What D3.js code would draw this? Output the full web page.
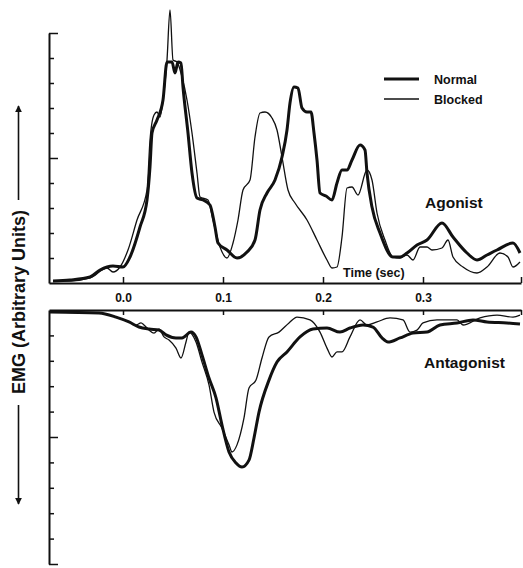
<!DOCTYPE html>
<html>
<head>
<meta charset="utf-8">
<script src="https://cdn.jsdelivr.net/npm/d3@7"></script>
<style>
  body { margin: 0; background: #fff; }
  text { font-family: "Liberation Sans", Arial, sans-serif; fill: #111; }
</style>
</head>
<body>
<div id="container"></div>
<script>
"use strict";

const width = 523;
const height = 568;

// time (sec), EMG (arbitrary units)
const agonistNormal = [
  [-0.070, 0.08], [-0.053, 0.12], [-0.033, 0.24], [-0.023, 0.52], [-0.010, 0.68],
  [0.000, 0.64], [0.007, 1.04], [0.017, 2.24], [0.024, 3.32], [0.027, 4.64],
  [0.029, 6.00], [0.034, 6.52], [0.040, 7.32], [0.044, 8.84], [0.049, 8.84],
  [0.052, 8.40], [0.055, 8.84], [0.058, 8.80], [0.060, 7.84], [0.065, 6.00],
  [0.069, 4.40], [0.074, 3.40], [0.080, 3.32], [0.087, 3.12], [0.092, 2.24],
  [0.095, 1.60], [0.104, 1.32], [0.114, 1.00], [0.124, 1.24], [0.132, 1.72],
  [0.137, 2.92], [0.144, 3.60], [0.152, 4.12], [0.159, 5.04], [0.164, 6.12],
  [0.167, 7.20], [0.171, 7.84], [0.175, 7.80], [0.179, 7.00], [0.184, 6.84],
  [0.188, 6.84], [0.191, 6.00], [0.194, 4.92], [0.197, 3.60], [0.203, 3.48],
  [0.209, 3.32], [0.214, 4.00], [0.219, 4.52], [0.224, 4.52], [0.229, 4.92],
  [0.237, 5.52], [0.242, 5.32], [0.244, 4.40], [0.249, 3.04], [0.257, 2.00],
  [0.270, 1.04], [0.277, 1.04], [0.284, 1.20], [0.294, 1.52], [0.304, 1.72],
  [0.319, 2.40], [0.330, 1.84], [0.344, 1.20], [0.354, 0.92], [0.364, 1.12],
  [0.374, 1.32], [0.390, 1.60], [0.397, 1.20]
];

const agonistBlocked = [
  [-0.070, 0.08], [-0.053, 0.08], [-0.033, 0.20], [-0.016, 0.60], [-0.010, 0.44],
  [-0.003, 0.64], [0.005, 1.32], [0.014, 2.52], [0.024, 3.72], [0.027, 5.72],
  [0.031, 6.72], [0.034, 6.84], [0.037, 6.64], [0.040, 7.32], [0.044, 8.92],
  [0.047, 10.92], [0.050, 8.92], [0.054, 8.84], [0.059, 8.24], [0.064, 7.32],
  [0.069, 6.00], [0.074, 4.40], [0.077, 3.44], [0.085, 3.32], [0.090, 2.52],
  [0.097, 1.44], [0.104, 1.00], [0.110, 1.60], [0.115, 2.52], [0.120, 3.72],
  [0.127, 4.12], [0.132, 5.84], [0.137, 6.80], [0.142, 6.84], [0.149, 6.60],
  [0.154, 6.12], [0.159, 5.04], [0.165, 3.72], [0.172, 3.20], [0.184, 2.52],
  [0.194, 1.72], [0.204, 0.92], [0.209, 0.60], [0.214, 0.64], [0.219, 1.84],
  [0.224, 3.80], [0.229, 3.84], [0.235, 3.52], [0.244, 4.52], [0.249, 4.12],
  [0.254, 2.80], [0.262, 1.72], [0.270, 1.04], [0.277, 1.00], [0.284, 1.12],
  [0.290, 0.92], [0.297, 1.44], [0.304, 1.44], [0.309, 1.32], [0.319, 1.40],
  [0.325, 1.72], [0.330, 1.04], [0.340, 0.64], [0.354, 0.40], [0.364, 0.64],
  [0.377, 1.20], [0.385, 1.04], [0.390, 0.64], [0.397, 0.84]
];

const antagonistNormal = [
  [-0.073, 0.08], [-0.024, 0.12], [-0.007, 0.28], [0.006, 0.47], [0.016, 0.67],
  [0.026, 0.75], [0.036, 0.79], [0.043, 0.98], [0.053, 1.10], [0.059, 1.10],
  [0.068, 0.87], [0.073, 1.06], [0.079, 1.77], [0.086, 2.68], [0.093, 3.46],
  [0.099, 4.53], [0.106, 5.59], [0.113, 6.02], [0.119, 6.18], [0.126, 5.91],
  [0.131, 5.04], [0.136, 4.02], [0.146, 2.76], [0.154, 2.05], [0.164, 1.65],
  [0.177, 1.06], [0.190, 0.75], [0.204, 0.71], [0.217, 0.87], [0.227, 0.71],
  [0.240, 0.59], [0.250, 0.67], [0.259, 1.10], [0.265, 1.26], [0.277, 1.10],
  [0.290, 0.91], [0.304, 0.87], [0.317, 0.59], [0.334, 0.51], [0.350, 0.39],
  [0.364, 0.47], [0.384, 0.51], [0.397, 0.55]
];

const antagonistBlocked = [
  [-0.073, 0.08], [-0.024, 0.12], [-0.007, 0.28], [0.006, 0.47], [0.013, 0.59],
  [0.018, 0.51], [0.021, 0.59], [0.026, 0.79], [0.031, 0.91], [0.036, 0.75],
  [0.041, 1.06], [0.046, 1.18], [0.053, 1.50], [0.058, 1.89], [0.063, 1.26],
  [0.066, 0.87], [0.073, 1.26], [0.079, 2.05], [0.086, 2.95], [0.091, 4.02],
  [0.099, 4.65], [0.106, 5.31], [0.109, 5.59], [0.114, 5.31], [0.121, 4.25],
  [0.126, 3.07], [0.133, 2.76], [0.139, 1.89], [0.146, 1.06], [0.156, 0.87],
  [0.166, 0.51], [0.174, 0.28], [0.187, 0.39], [0.197, 0.87], [0.204, 1.50],
  [0.209, 1.85], [0.214, 1.65], [0.219, 1.65], [0.227, 1.06], [0.237, 0.39],
  [0.244, 0.59], [0.254, 0.47], [0.267, 0.31], [0.280, 0.39], [0.287, 0.87],
  [0.294, 0.79], [0.300, 0.51], [0.314, 0.39], [0.334, 0.39], [0.340, 0.59],
  [0.357, 0.31], [0.374, 0.20], [0.390, 0.28], [0.397, 0.20]
];

const timeTicks = [0, 0.1, 0.2, 0.3];
const emgTicks = [1, 2, 3, 4, 5, 6, 7, 8, 9, 10];
const majorTicks = [5, 10];
const legendLabels = ["Normal", "Blocked"];

const ink = "#111";
const thick = 3;
const thin = 1.3;

const xScale = d3.scaleLinear().domain([-0.074, 0.398]).range([49, 521]);
const yTop = d3.scaleLinear().domain([0, 10]).range([283, 33]);
const yBottom = d3.scaleLinear().domain([0, 10]).range([310, 564]);

const svg = d3
  .select("#container")
  .append("svg")
  .attr("width", width)
  .attr("height", height);

const styleAxis = (g) => {
  g.select(".domain").attr("stroke", ink).attr("stroke-width", 2);
  g.selectAll(".tick line").attr("stroke", ink).attr("stroke-width", 1.5);
  g.selectAll(".tick text")
    .style("font-size", "12px")
    .style("font-weight", "bold")
    .attr("fill", ink);
};

// time axis under the agonist panel, ticks pointing up
const xEnd = xScale.domain()[1];
const xAxisTop = d3
  .axisBottom(xScale)
  .tickValues(timeTicks.concat([xEnd]))
  .tickSizeInner(-6)
  .tickSizeOuter(0)
  .tickPadding(10)
  .tickFormat((d) => (d === xEnd ? "" : d3.format(".1f")(d)));

svg
  .append("g")
  .attr("transform", "translate(0, 283)")
  .call(xAxisTop)
  .call(styleAxis);

// time axis above the antagonist panel, ticks pointing down
const xAxisBottom = d3
  .axisTop(xScale)
  .tickValues(timeTicks.concat([xEnd]))
  .tickSizeInner(-5)
  .tickSizeOuter(0)
  .tickFormat("");

svg
  .append("g")
  .attr("transform", "translate(0, 310)")
  .call(xAxisBottom)
  .call(styleAxis);

const yAxis = (scale) =>
  d3.axisRight(scale).tickValues(emgTicks).tickSize(5).tickSizeOuter(0).tickFormat("");

[yTop, yBottom].forEach((scale) => {
  svg
    .append("g")
    .attr("transform", "translate(49, 0)")
    .call(yAxis(scale))
    .call(styleAxis)
    .selectAll(".tick line")
    .attr("x2", (d) => (majorTicks.includes(d) ? 9 : 5));
});

const line = (scale) =>
  d3
    .line()
    .x((d) => xScale(d[0]))
    .y((d) => scale(d[1]))
    .curve(d3.curveMonotoneX);

const traces = [
  { data: agonistBlocked, scale: yTop, w: thin },
  { data: agonistNormal, scale: yTop, w: thick },
  { data: antagonistBlocked, scale: yBottom, w: thin },
  { data: antagonistNormal, scale: yBottom, w: thick },
];

traces.forEach((t) => {
  svg
    .append("path")
    .datum(t.data)
    .attr("d", line(t.scale))
    .attr("fill", "none")
    .attr("stroke", ink)
    .attr("stroke-width", t.w)
    .attr("stroke-linejoin", "round");
});

// legend
legendLabels.forEach((label, i) => {
  const y = 79 + i * 20;
  svg
    .append("line")
    .attr("x1", 384)
    .attr("x2", 419)
    .attr("y1", y)
    .attr("y2", y)
    .attr("stroke", ink)
    .attr("stroke-width", i === 0 ? thick : thin);
  svg
    .append("text")
    .attr("x", 434)
    .attr("y", y + 4.5)
    .text(label)
    .style("font-size", "12.5px")
    .style("font-weight", "bold");
});

svg
  .append("text")
  .attr("x", 343)
  .attr("y", 277)
  .text("Time (sec)")
  .style("font-size", "12.5px")
  .style("font-weight", "bold");

svg
  .append("text")
  .attr("x", 425)
  .attr("y", 208)
  .text("Agonist")
  .style("font-size", "15.5px")
  .style("font-weight", "bold");

svg
  .append("text")
  .attr("x", 424)
  .attr("y", 368)
  .text("Antagonist")
  .style("font-size", "15.5px")
  .style("font-weight", "bold");

// y label with arrows
svg
  .append("text")
  .attr("text-anchor", "middle")
  .attr("transform", "translate(25, 302) rotate(-90)")
  .text("EMG (Arbitrary Units)")
  .style("font-size", "18px")
  .style("font-weight", "bold");

svg
  .append("defs")
  .append("marker")
  .attr("id", "head")
  .attr("viewBox", "0 0 10 10")
  .attr("refX", 9)
  .attr("refY", 5)
  .attr("markerWidth", 7)
  .attr("markerHeight", 7)
  .attr("markerUnits", "userSpaceOnUse")
  .attr("orient", "auto")
  .append("path")
  .attr("d", "M0,0 L10,5 L0,10 Z")
  .attr("fill", ink);

[[200, 106], [405, 504]].forEach(([from, to]) => {
  svg
    .append("line")
    .attr("x1", 18.5)
    .attr("x2", 18.5)
    .attr("y1", from)
    .attr("y2", to)
    .attr("stroke", ink)
    .attr("stroke-width", 1.6)
    .attr("marker-end", "url(#head)");
});
</script>
</body>
</html>
